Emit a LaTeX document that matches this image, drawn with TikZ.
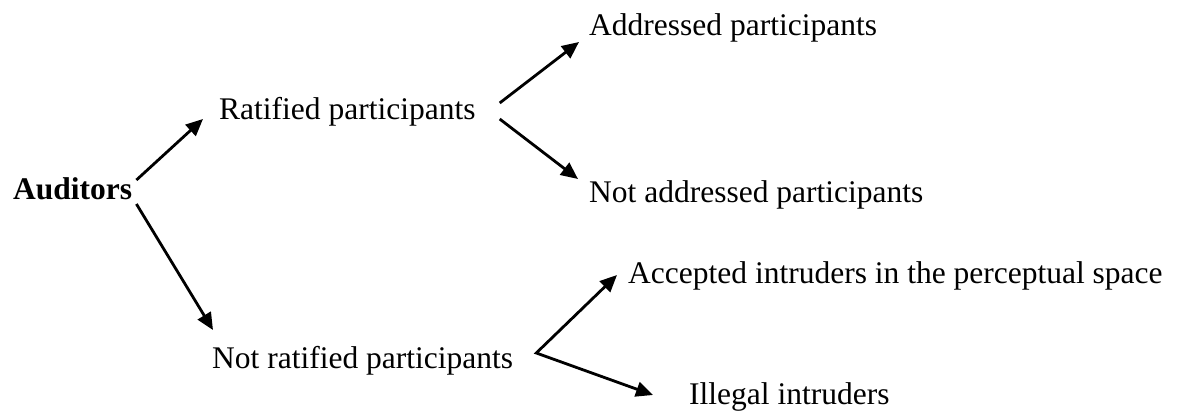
\documentclass[tikz,border=0pt]{standalone}
\usepackage{fontspec}
\setmainfont{Liberation Serif}
\usetikzlibrary{arrows.meta}

\begin{document}
\begin{tikzpicture}[x=1pt,y=-1pt,
    label/.style={inner sep=0pt,anchor=base west,font=\fontsize{31.5}{36}\selectfont},
    root/.style={label,font=\fontsize{31.5}{36}\selectfont\bfseries},
    tip/.tip={Triangle[length=17pt,width=15pt]},
    link/.style={line width=2.8pt,-tip},
    fork/.style={line width=2.8pt,tip-tip,line join=miter}]
  \useasboundingbox (0,0) rectangle (1178,412);

  % categories of auditors
  \node[root]  (aud)     at (13,199)  {Auditors};
  \node[label] (rat)     at (219,119) {Ratified participants};
  \node[label] (notrat)  at (212,368) {Not ratified participants};
  \node[label] (addr)    at (589,36)  {Addressed participants};
  \node[label] (notaddr) at (589,202) {Not addressed participants};
  \node[label] (acc)     at (628,283) {Accepted intruders in the perceptual space};
  \node[label] (ill)     at (689,404) {Illegal intruders};

  % first split
  \draw[link] ([xshift=4pt,yshift=19pt]aud.base east) -- ([xshift=-16pt]rat.base west);
  \draw[link] ([xshift=4pt,yshift=-5pt]aud.base east) -- ([xshift=1pt,yshift=38pt]notrat.base west);

  % ratified participants
  \draw[link] ([xshift=24pt,yshift=16pt]rat.base east) -- ([xshift=-10pt,yshift=-6pt]addr.base west);
  \draw[link] ([xshift=24pt]rat.base east) -- ([xshift=-11pt,yshift=23pt]notaddr.base west);

  % not ratified participants
  \coordinate (split) at ([xshift=23pt,yshift=15pt]notrat.base east);
  \draw[fork] ([xshift=-11pt,yshift=8pt]acc.base west) -- (split) -- ([xshift=-36pt,yshift=9pt]ill.base west);
\end{tikzpicture}
\end{document}
